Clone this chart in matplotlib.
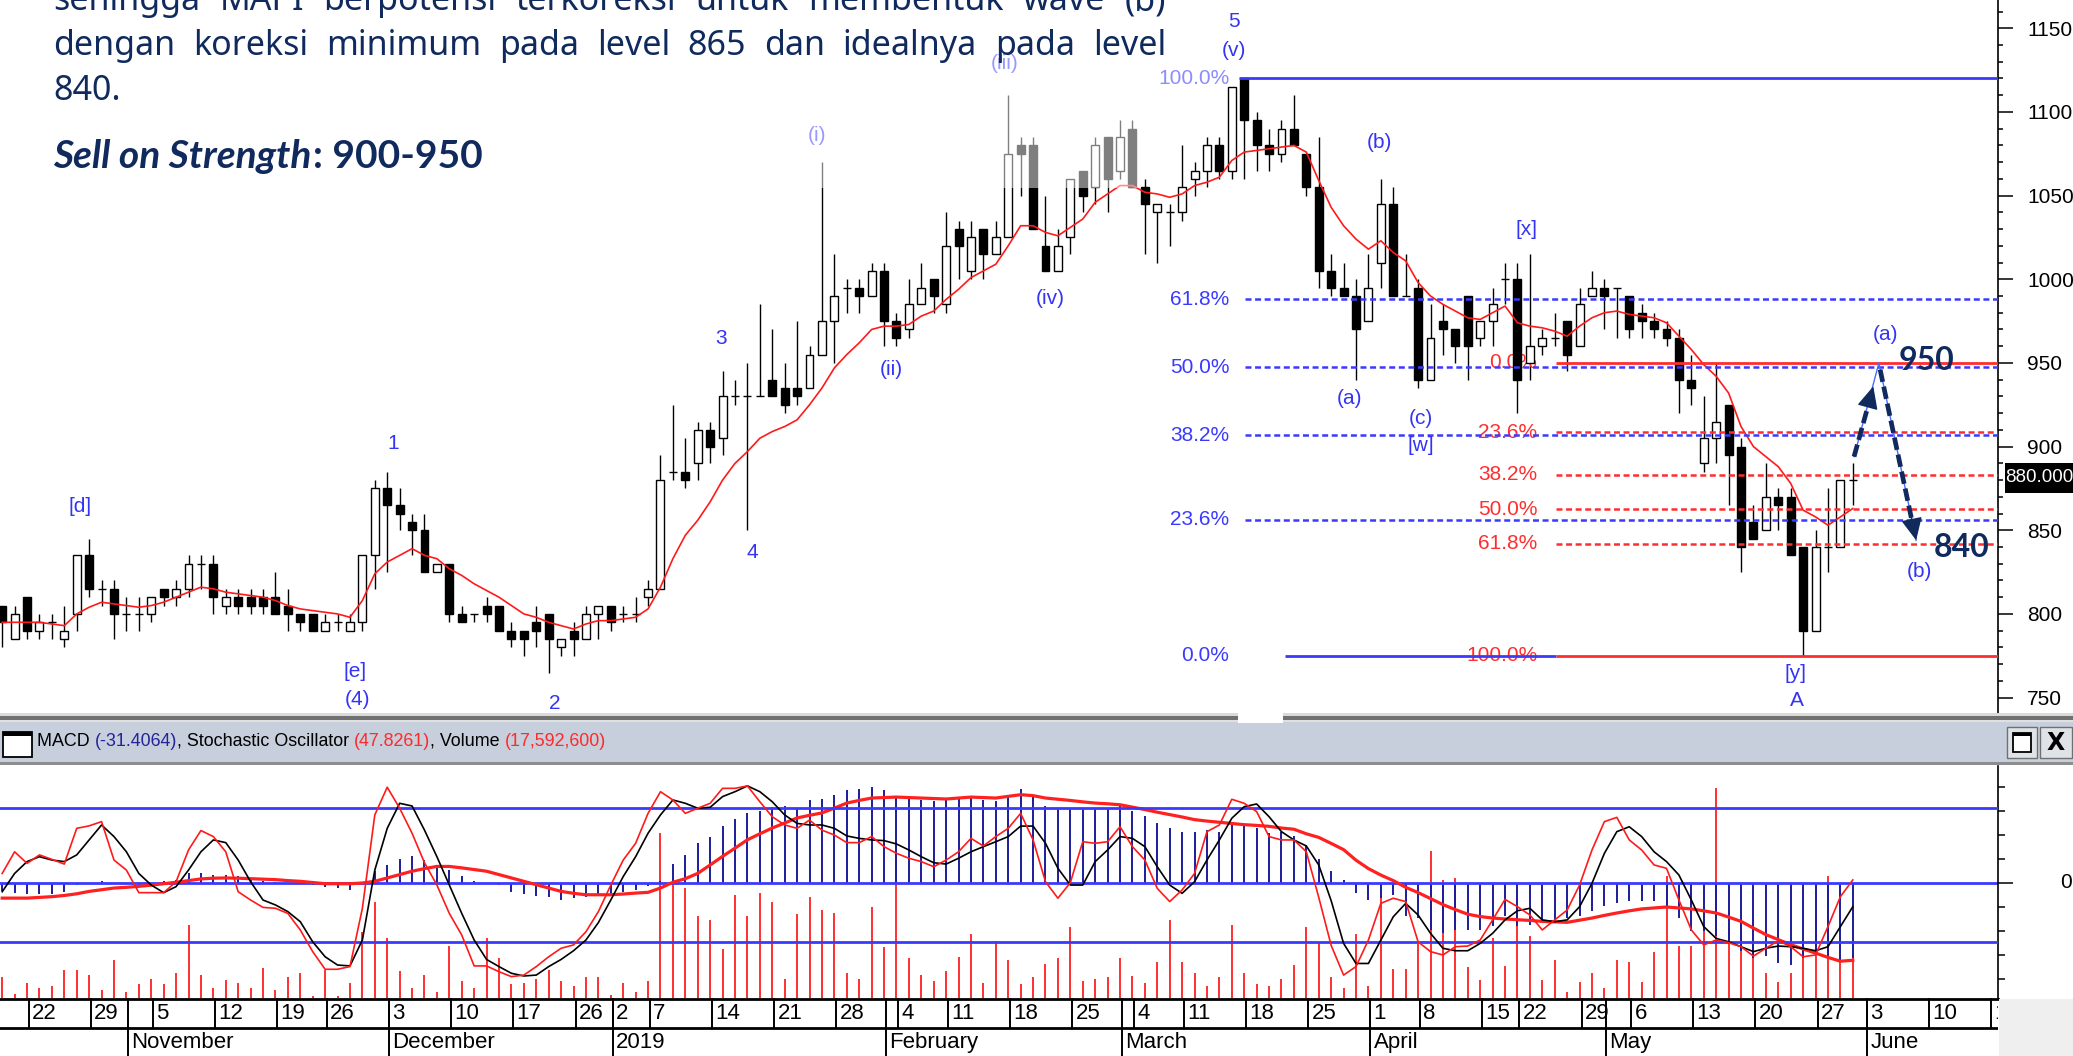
import matplotlib
matplotlib.use("Agg")
import matplotlib.pyplot as plt
from matplotlib.patches import Rectangle
import numpy as np

NARROW = ['Liberation Sans Narrow', 'Liberation Sans', 'DejaVu Sans']
BOLDFACE = ['Lato', 'Roboto', 'Liberation Sans']
plt.rcParams['font.family'] = NARROW
plt.rcParams['lines.scale_dashes'] = False

W, H = 2073, 1056

# ---- daily bars, index 0 = 18 Oct 2018 ----
opens = [805, 785, 810, 790, 795, 785, 800, 835, 815, 815,
         800, 800, 800, 815, 810, 815, 830, 830, 805, 810,
         810, 810, 810, 805, 800, 800, 790, 795, 790, 795,
         835, 875, 865, 855, 850, 825, 830, 800, 800, 805,
         805, 790, 790, 795, 800, 780, 790, 785, 800, 805,
         800, 800, 810, 815, 885, 885, 890, 910, 905, 930,
         930, 930, 940, 935, 935, 935, 955, 975, 995, 995,
         990, 1005, 975, 970, 985, 1000, 985, 1030, 1005, 1030,
         1015, 1025, 1080, 1080, 1020, 1005, 1025, 1065, 1055, 1085,
         1065, 1090, 1055, 1040, 1040, 1040, 1060, 1065, 1080, 1065,
         1120, 1095, 1080, 1075, 1090, 1075, 1055, 1005, 995, 990,
         975, 1010, 1045, 990, 995, 940, 975, 970, 990, 965,
         975, 1000, 1000, 950, 960, 965, 975, 960, 990, 995,
         995, 990, 980, 975, 970, 965, 940, 890, 905, 925,
         900, 855, 850, 870, 870, 840, 790, 840, 840, 880]
highs = [805, 805, 810, 800, 800, 805, 835, 845, 820, 820,
         810, 810, 810, 815, 820, 835, 835, 835, 815, 815,
         815, 815, 825, 815, 800, 800, 800, 800, 800, 835,
         880, 885, 875, 860, 860, 830, 830, 805, 800, 810,
         805, 795, 790, 805, 800, 785, 795, 805, 805, 805,
         805, 810, 820, 895, 925, 905, 915, 915, 945, 940,
         950, 985, 970, 950, 975, 960, 1070, 1015, 1000, 1000,
         1010, 1010, 980, 1000, 1010, 1000, 1040, 1035, 1035, 1030,
         1035, 1110, 1085, 1085, 1050, 1030, 1060, 1065, 1085, 1085,
         1095, 1095, 1060, 1045, 1045, 1080, 1070, 1085, 1085, 1115,
         1120, 1100, 1090, 1095, 1110, 1075, 1085, 1015, 1010, 1000,
         1015, 1060, 1055, 1015, 1000, 985, 985, 970, 990, 975,
         995, 1010, 1010, 1015, 970, 980, 975, 995, 1005, 1000,
         995, 990, 985, 980, 975, 970, 955, 930, 950, 925,
         905, 865, 890, 875, 875, 840, 850, 875, 880, 890]
lows = [780, 785, 785, 785, 785, 780, 790, 810, 805, 785,
        790, 790, 795, 805, 805, 810, 815, 800, 800, 800,
        800, 800, 800, 790, 790, 790, 790, 790, 790, 790,
        815, 825, 850, 835, 825, 825, 795, 795, 795, 795,
        790, 780, 775, 780, 765, 775, 775, 785, 785, 790,
        795, 795, 805, 815, 880, 875, 880, 890, 895, 925,
        850, 930, 930, 920, 925, 935, 955, 950, 980, 980,
        990, 960, 960, 965, 985, 980, 980, 1000, 1000, 1000,
        1015, 1025, 1050, 1030, 1005, 1005, 1015, 1040, 1045, 1040,
        1060, 1055, 1015, 1010, 1020, 1035, 1050, 1055, 1060, 1060,
        1060, 1065, 1065, 1070, 1080, 1050, 995, 990, 990, 940,
        975, 995, 990, 990, 935, 940, 955, 950, 940, 960,
        960, 985, 920, 940, 955, 960, 945, 960, 990, 970,
        965, 965, 965, 965, 960, 920, 925, 885, 890, 865,
        825, 845, 850, 850, 835, 775, 790, 825, 840, 865]
closes = [795, 800, 790, 795, 795, 790, 835, 815, 815, 800,
          800, 800, 810, 810, 815, 830, 830, 810, 810, 805,
          805, 805, 800, 800, 795, 790, 795, 795, 795, 835,
          875, 865, 860, 850, 825, 830, 800, 795, 800, 800,
          790, 785, 785, 790, 785, 785, 785, 800, 805, 795,
          800, 800, 815, 880, 885, 880, 910, 900, 930, 930,
          930, 930, 930, 925, 930, 955, 975, 990, 995, 990,
          1005, 975, 965, 985, 995, 990, 1020, 1020, 1025, 1015,
          1025, 1075, 1075, 1030, 1005, 1020, 1060, 1050, 1080, 1060,
          1085, 1055, 1045, 1045, 1040, 1055, 1065, 1080, 1065, 1115,
          1095, 1080, 1075, 1090, 1080, 1055, 1005, 995, 990, 970,
          995, 1045, 990, 990, 940, 965, 970, 960, 960, 975,
          985, 1000, 940, 960, 965, 965, 955, 985, 995, 990,
          995, 970, 975, 970, 965, 940, 935, 905, 915, 895,
          840, 845, 870, 865, 835, 790, 840, 840, 880, 880]
ma_line = [795, 795, 795, 795, 794, 793, 800, 804, 807, 806,
           805, 804, 805, 807, 810, 813, 816, 815, 813, 812,
           811, 810, 808, 805, 803, 802, 801, 800, 798, 808,
           824, 831, 835, 839, 835, 833, 827, 823, 818, 814,
           810, 805, 800, 798, 795, 793, 791, 794, 796, 796,
           797, 798, 803, 816, 833, 847, 856, 867, 880, 890,
           897, 905, 909, 912, 916, 925, 935, 947, 955, 962,
           970, 972, 972, 973, 978, 981, 988, 994, 1001, 1005,
           1009, 1020, 1032, 1032, 1028, 1026, 1031, 1036, 1046, 1051,
           1056, 1056, 1052, 1051, 1049, 1051, 1056, 1058, 1061, 1071,
           1076, 1077, 1078, 1079, 1080, 1076, 1059, 1043, 1032, 1024,
           1018, 1023, 1016, 1011, 998, 990, 985, 981, 977, 976,
           980, 984, 974, 972, 971, 969, 966, 972, 977, 980,
           981, 979, 978, 977, 974, 966, 958, 949, 942, 932,
           912, 900, 894, 888, 878, 862, 858, 853, 858, 863]
volume_m = [8.6, 1.8, 6.1, 4.2, 4.8, 11.6, 11.6, 9.3, 3.1, 15.7,
            2.5, 5.6, 7.9, 5.6, 10.2, 30.1, 9.3, 4.2, 7.2, 6.1,
            4.2, 12.4, 3.4, 8.6, 10.2, 1.0, 11.6, 1.0, 6.1, 27.0,
            39.3, 24.7, 11.0, 4.2, 9.3, 2.5, 21.5, 7.0, 4.2, 24.7,
            16.5, 5.6, 6.1, 7.9, 11.6, 7.0, 4.8, 8.6, 8.6, 1.1,
            6.1, 2.5, 7.0, 67.5, 48.0, 45.1, 33.8, 31.8, 20.2, 42.4,
            33.8, 42.9, 39.3, 7.9, 34.5, 41.6, 36.1, 34.8, 10.2, 7.9,
            37.5, 20.9, 64.5, 16.5, 9.3, 7.0, 11.0, 17.0, 26.3, 6.1,
            23.3, 15.7, 5.6, 8.6, 14.0, 16.5, 29.3, 7.0, 7.9, 8.6,
            16.5, 8.9, 6.1, 14.7, 31.8, 14.7, 10.2, 4.8, 8.6, 30.1,
            10.2, 5.6, 4.8, 7.9, 13.4, 29.3, 22.5, 8.6, 4.0, 26.3,
            5.0, 42.0, 12.0, 12.0, 22.0, 60.1, 48.3, 49.0, 12.7, 7.2,
            24.7, 13.0, 35.7, 25.6, 7.2, 15.7, 2.5, 6.5, 10.2, 4.2,
            15.7, 14.7, 6.5, 18.7, 50.2, 21.3, 21.5, 27.5, 86.0, 28.6,
            30.0, 22.0, 10.2, 6.5, 10.2, 23.5, 33.8, 50.2, 16.2, 17.6]
macd = [-3.5, -4.2, -4.4, -4.4, -4.4, -3.9, -1.0, 0.0, 0.7, 0.0,
        -0.5, -0.7, 0.0, 0.7, 1.4, 4.2, 4.2, 3.5, 3.5, 2.8,
        1.4, 0.7, 0.3, 0.0, -0.3, -0.7, -1.7, -2.1, -2.8, 0.3,
        4.9, 7.6, 10.0, 11.1, 9.4, 7.2, 5.6, 2.8, 0.7, 0.0,
        -0.7, -3.9, -4.4, -5.6, -5.8, -6.9, -6.3, -5.8, -5.6, -4.4,
        -3.9, -2.8, -1.4, 0.7, 8.1, 11.8, 16.5, 19.2, 23.6, 26.7,
        29.2, 29.9, 31.7, 32.2, 31.3, 34.7, 35.0, 36.8, 38.9, 39.2,
        40.0, 38.9, 36.1, 35.4, 34.7, 34.0, 34.7, 35.4, 36.1, 34.7,
        34.0, 36.8, 39.2, 36.1, 32.2, 31.3, 31.3, 31.3, 31.3, 31.3,
        32.2, 29.9, 27.8, 25.0, 22.9, 21.1, 21.1, 22.2, 21.1, 24.3,
        24.3, 22.9, 20.8, 21.1, 19.4, 16.0, 10.0, 5.0, 1.4, -4.2,
        -6.9, -6.3, -4.9, -13.9, -14.6, -19.4, -20.8, -19.4, -19.4, -19.4,
        -18.0, -13.9, -18.0, -17.4, -16.0, -16.0, -14.6, -13.9, -11.8, -9.7,
        -8.3, -7.6, -7.6, -7.6, -10.4, -14.6, -20.1, -20.1, -22.2, -24.3,
        -28.5, -31.3, -30.6, -33.3, -34.0, -31.3, -29.2, -31.0, -32.0, -31.4]
macd_signal = [-6.3, -6.3, -6.3, -6.0, -5.7, -5.2, -4.5, -3.5, -2.8, -2.1,
               -1.8, -1.4, -0.9, -0.3, 0.3, 1.0, 1.7, 2.0, 2.1, 2.0,
               1.8, 1.6, 1.4, 1.0, 0.7, 0.2, -0.3, -0.3, -0.3, 0.0,
               0.7, 2.1, 3.5, 4.9, 6.0, 6.9, 6.9, 6.3, 5.6, 4.9,
               3.5, 2.1, 0.7, -0.7, -2.1, -3.5, -4.3, -4.9, -4.9, -4.9,
               -4.6, -4.2, -3.9, -2.1, 0.3, 1.8, 4.0, 7.5, 11.1, 14.5,
               18.0, 20.5, 22.9, 25.0, 27.1, 28.2, 29.2, 31.2, 33.3, 34.4,
               35.4, 35.6, 35.8, 35.6, 35.4, 35.2, 35.0, 35.4, 35.8, 35.6,
               35.4, 36.1, 36.8, 36.4, 35.4, 34.9, 34.4, 33.8, 33.3, 33.0,
               32.6, 31.6, 30.6, 29.5, 28.5, 27.5, 26.4, 25.8, 25.3, 24.8,
               24.3, 24.0, 23.6, 22.9, 22.4, 20.5, 19.0, 16.5, 13.9, 9.5,
               6.0, 3.3, 1.0, -1.8, -4.0, -6.5, -9.0, -11.1, -13.0, -14.0,
               -14.6, -15.0, -15.3, -15.6, -16.0, -16.2, -16.4, -15.5, -14.6, -13.5,
               -12.5, -11.6, -10.8, -10.4, -10.0, -10.4, -10.8, -11.6, -12.5, -14.2,
               -16.0, -18.8, -21.5, -23.6, -25.7, -27.5, -29.2, -31.0, -32.6, -32.2]
stoch_k = [50.7, 60.4, 55.2, 59.0, 57.0, 54.9, 70.9, 72.0, 73.9, 56.7,
           52.2, 42.1, 42.1, 42.1, 47.0, 61.2, 69.9, 67.2, 60.4, 42.5,
           38.8, 35.5, 35.1, 32.8, 25.4, 15.7, 7.8, 7.8, 9.0, 35.1,
           76.9, 89.3, 79.9, 68.7, 55.5, 45.5, 32.8, 23.1, 9.3, 9.3,
           6.7, 4.5, 5.2, 9.0, 13.4, 17.2, 18.7, 24.6, 33.6, 45.5,
           56.7, 64.2, 77.6, 87.3, 83.6, 77.6, 79.9, 82.1, 88.8, 88.8,
           89.9, 82.8, 76.1, 72.4, 70.9, 74.6, 70.1, 67.9, 64.5, 64.5,
           67.2, 62.7, 59.7, 57.5, 56.0, 53.7, 56.7, 60.4, 66.4, 63.0,
           67.2, 70.9, 77.6, 65.7, 47.0, 39.6, 46.6, 64.9, 64.2, 64.9,
           71.6, 62.7, 56.7, 44.0, 38.1, 43.3, 50.7, 69.4, 72.4, 83.9,
           82.1, 78.4, 67.2, 65.7, 65.7, 60.4, 40.0, 18.5, 5.2, 9.0,
           20.9, 37.3, 39.6, 38.1, 20.1, 15.7, 14.2, 17.9, 18.2, 20.9,
           29.9, 39.1, 35.8, 32.1, 25.4, 29.9, 34.3, 45.5, 61.2, 73.9,
           75.8, 65.7, 61.2, 54.5, 53.0, 38.8, 25.4, 18.7, 20.9, 19.7,
           17.9, 13.7, 17.2, 20.6, 17.9, 13.4, 14.2, 26.9, 40.3, 47.8]
stoch_d = [42.5, 50.7, 56.0, 58.2, 56.7, 56.0, 59.0, 65.7, 72.4, 67.2,
           60.4, 50.7, 45.5, 42.1, 44.8, 52.2, 60.4, 65.7, 64.5, 56.7,
           47.0, 38.8, 36.6, 33.6, 29.1, 20.1, 13.4, 9.7, 9.3, 20.9,
           52.2, 70.9, 82.1, 80.9, 70.1, 58.2, 45.5, 32.8, 20.9, 12.2,
           9.0, 6.0, 4.8, 5.2, 9.0, 12.2, 16.1, 20.9, 28.7, 38.8,
           49.3, 58.2, 68.7, 76.9, 83.6, 82.1, 79.9, 80.3, 85.1, 87.3,
           89.9, 87.3, 82.8, 76.9, 73.1, 72.4, 72.4, 70.9, 67.5, 66.4,
           65.7, 65.4, 63.9, 61.2, 58.2, 55.5, 54.9, 57.5, 60.4, 62.7,
           64.9, 67.2, 71.9, 71.9, 64.2, 53.0, 45.5, 45.5, 56.0, 61.2,
           67.2, 66.4, 62.7, 53.7, 45.5, 41.8, 47.0, 56.7, 65.7, 75.4,
           80.6, 81.8, 76.1, 69.4, 65.7, 63.0, 54.5, 38.5, 19.4, 10.4,
           10.4, 20.9, 31.3, 37.3, 32.1, 23.9, 17.2, 16.1, 16.1, 19.4,
           23.9, 29.9, 34.0, 35.1, 29.9, 29.1, 29.9, 35.8, 46.3, 59.7,
           69.4, 71.6, 67.2, 60.4, 56.0, 50.0, 38.8, 26.9, 21.6, 20.1,
           17.9, 15.7, 17.2, 18.2, 17.9, 17.2, 16.1, 17.9, 26.9, 35.8]

# date axis (trading-day index of the first day of each week / month)
day_ticks = [2, 7, 12, 17, 22, 26, 31, 36, 41, 46, 49, 52, 57, 62, 67, 72, 76, 81,
             86, 91, 95, 100, 105, 110, 114, 119, 122, 127, 131, 136, 141, 146, 150, 155, 160]
day_labels = ['22', '29', '5', '12', '19', '26', '3', '10', '17', '26', '2', '7', '14', '21',
              '28', '4', '11', '18', '25', '4', '11', '18', '25', '1', '8', '15', '22', '29',
              '6', '13', '20', '27', '3', '10', '17']
month_ticks = [10, 31, 49, 71, 90, 110, 129, 150]
month_labels = ['November', 'December', '2019', 'February', 'March', 'April', 'May', 'June']

fib_high, fib_low = 1120, 775       # blue retracement
fib2_high, fib2_low = 950, 775      # red retracement
fib_ratios = [0.618, 0.5, 0.382, 0.236]

wave_labels = [(6.3, 864.5, '[d]'), (28.4, 765.5, '[e]'), (28.6, 748.6, '(4)'),
               (31.5, 902, '1'), (44.5, 746.6, '2'), (57.9, 964.7, '3'), (60.4, 836.6, '4'),
               (71.6, 946, '(ii)'), (84.4, 988.6, '(iv)'), (99.2, 1154, '5'),
               (99.2, 1137, '(v)'), (108.5, 929, '(a)'), (110.9, 1081.6, '(b)'),
               (114.2, 917, '(c)'), (114.2, 900.4, '[w]'), (122.7, 1030, '[x]'),
               (144.4, 764.5, '[y]'), (144.5, 748.2, 'A'), (151.6, 966.7, '(a)'),
               (154.4, 825.3, '(b)')]
faded_labels = [(65.6, 1086, '(i)'), (80.7, 1129, '(iii)')]

BLUE = '#3a3aff'
RED = '#ff2e2e'
NAVY = '#102a5e'
WAVE = '#3434f4'

X_LO, X_HI = -0.177, 160.69
AXIS_X = 1998

fig = plt.figure(figsize=(W / 100, H / 100), dpi=100)
fig.patch.set_facecolor('white')


def fig_rect(x0, y0, x1, y1, **kw):
    r = Rectangle((x0 / W, 1 - y1 / H), (x1 - x0) / W, (y1 - y0) / H,
                  transform=fig.transFigure, **kw)
    fig.add_artist(r)
    return r


# ---------------- price panel ----------------
ax = fig.add_axes([0, 1 - 714 / H, AXIS_X / W, 714 / H])
ax.set_xlim(X_LO, X_HI)
ax.set_ylim(740.2, 1166.9)
for s in ('left', 'top', 'bottom'):
    ax.spines[s].set_visible(False)
ax.spines['right'].set_linewidth(1.2)
ax.xaxis.set_visible(False)
ax.yaxis.tick_right()
ax.set_yticks(np.arange(750, 1151, 50))
ax.set_yticks(np.arange(750, 1161, 10), minor=True)
ax.tick_params(axis='y', which='major', length=10.8, width=1.1, pad=10, labelsize=15)
ax.tick_params(axis='y', which='minor', length=3.6, width=1.1)

x = np.arange(len(closes))
o, h, l, c = (np.array(a, dtype=float) for a in (opens, highs, lows, closes))
ax.vlines(x, l, h, color='black', lw=1.0, zorder=2)
up = c >= o
ax.bar(x[up], (c - o)[up], bottom=o[up], width=0.64, facecolor='white',
       edgecolor='black', lw=1.0, zorder=3)
ax.bar(x[~up], (o - c)[~up], bottom=c[~up], width=0.64, facecolor='black',
       edgecolor='black', lw=1.0, zorder=3)
ax.plot(x, ma_line, color='#ff1a1a', lw=1.2, zorder=4)

# blue fibonacci
dots = (0, (4.3, 2.6))
ax.hlines(fib_high, 99.6, X_HI, color=BLUE, lw=2, zorder=4)
ax.hlines(fib_low, 103.3, 125.1, color=BLUE, lw=2, zorder=4)
for f in fib_ratios:
    ax.hlines(fib_low + f * (fib_high - fib_low), 100.1, X_HI, color=BLUE, lw=1.8,
              linestyles=dots, zorder=4)
ax.text(98.8, fib_high, '100.0%', ha='right', va='center', color='#8c8cff', fontsize=15, zorder=2.5)
for f in fib_ratios + [0.0]:
    ax.text(98.8, fib_low + f * (fib_high - fib_low), '%.1f%%' % (f * 100), ha='right',
            va='center', color=BLUE, fontsize=15, zorder=2.5)

# red fibonacci
ax.hlines([fib2_high, fib2_low], 125.1, X_HI, color=RED, lw=2, zorder=4)
for f in fib_ratios:
    ax.hlines(fib2_high - f * (fib2_high - fib2_low), 125.1, X_HI, color=RED, lw=1.8,
              linestyles=dots, zorder=4)
for f in [0.0, 0.236, 0.382, 0.5, 0.618, 1.0]:
    ax.text(123.6, fib2_high - f * (fib2_high - fib2_low), '%.1f%%' % (f * 100), ha='right',
            va='center', color=RED, fontsize=15, zorder=2.5)

for xi, yi, s in wave_labels:
    ax.text(xi, yi, s, ha='center', va='center', color=WAVE, fontsize=15, zorder=7)
for xi, yi, s in faded_labels:
    ax.text(xi, yi, s, ha='center', va='center', color=WAVE, fontsize=15, zorder=4.5)

# washed-out patch near the top of the chart
ax.add_patch(Rectangle((64.2, 1054.6), 27.4, 120, facecolor='white', alpha=0.5, lw=0, zorder=5))

# projected path
ax.plot([149.1, 151.1, 154.1], [894, 950, 844], color='#4a6cff', lw=1, zorder=7)
ax.plot([149.1, 150.55], [894, 933], color=NAVY, lw=3.4, linestyle=(0, (9, 3.5)), zorder=8)
ax.plot([151.2, 153.95], [946, 849], color=NAVY, lw=3.4, linestyle=(0, (9, 3.5)), zorder=8)
for start, tip in [((149.1, 894), (150.65, 936)), ((151.2, 946), (154.1, 844))]:
    back = (tip[0] - 0.15 * (tip[0] - start[0]), tip[1] - 0.15 * (tip[1] - start[1]))
    ax.annotate('', xy=tip, xytext=back, zorder=8,
                arrowprops=dict(arrowstyle='-|>,head_length=0.7,head_width=0.33',
                                color=NAVY, lw=1, mutation_scale=20, shrinkA=0, shrinkB=0))
ax.text(154.9, 945.9, '950', ha='center', va='baseline', color=NAVY, fontsize=23,
        fontweight='bold', family=BOLDFACE, zorder=8)
ax.text(157.8, 834, '840', ha='center', va='baseline', color=NAVY, fontsize=23,
        fontweight='bold', family=BOLDFACE, zorder=8)

# ---------------- indicator panel ----------------
ind_rect = [0, 1 - 998 / H, AXIS_X / W, (998 - 766) / H]
axv = fig.add_axes(ind_rect)
axv.set_xlim(X_LO, X_HI)
axv.set_ylim(0, 95.1)
axv.axis('off')
axv.vlines(x, 0, volume_m, color='#ff1f1f', lw=1.3)

axm = axv.twinx()
axm.set_xlim(X_LO, X_HI)
axm.set_ylim(-47.92, 48.75)
axm.vlines(x, 0, macd, color='#1c1c9a', lw=1.4)
axm.axhline(0, color=BLUE, lw=2)
axm.plot(x, macd_signal, color='#ff2020', lw=2.3)
for s in ('left', 'top', 'bottom'):
    axm.spines[s].set_visible(False)
axm.spines['right'].set_linewidth(1.2)
axm.xaxis.set_visible(False)
axm.set_yticks([0])
axm.set_yticks([-40, -30, -20, -10, 10, 20, 30, 40], minor=True)
axm.tick_params(axis='y', which='major', length=10.8, width=1.1, labelright=False)
axm.tick_params(axis='y', which='minor', length=5, width=1.1)

axs = axv.twinx()
axs.set_xlim(X_LO, X_HI)
axs.set_ylim(-5.06, 98.8)
axs.axis('off')
axs.axhline(80, color=BLUE, lw=2)
axs.axhline(20, color=BLUE, lw=2)
axs.plot(x, stoch_d, color='black', lw=1.2)
axs.plot(x, stoch_k, color='#ff1a1a', lw=1.2)

fig.text(2060 / W, 1 - 883 / H, '0', ha='left', va='center', fontsize=15)

# ---------------- date axis ----------------
axd = fig.add_axes([0, 0, AXIS_X / W, 58 / H])
axd.set_xlim(X_LO, X_HI)
axd.set_ylim(0, 58)
axd.axis('off')
axd.axhline(57.3, color='black', lw=2, clip_on=False)
axd.axhline(28, color='black', lw=2)
for i, lab in zip(day_ticks, day_labels):
    axd.vlines(i + 0.16, 28, 58, color='black', lw=1.4)
    axd.text(i + 0.42, 42.5, lab, ha='left', va='center', fontsize=16, clip_on=True)
for i, lab in zip(month_ticks, month_labels):
    axd.vlines(i + 0.16, 0, 58, color='black', lw=1.4)
    axd.text(i + 0.42, 13.5, lab, ha='left', va='center', fontsize=16, clip_on=True)
fig_rect(AXIS_X + 1, 999, W, H, facecolor='#efefef', lw=0)

# ---------------- header bar between panels ----------------
fig_rect(0, 713, W, 716, facecolor='#dadada', lw=0)
fig_rect(0, 716, W, 720, facecolor='#707070', lw=0)
fig_rect(0, 720, W, 722, facecolor='#e0e0e0', lw=0)
fig_rect(0, 722, W, 762, facecolor='#c6cfdb', lw=0)
fig_rect(0, 762, W, 765, facecolor='#8d8d8d', lw=0)
fig_rect(1238, 709, 1283, 723, facecolor='white', lw=0)

fig_rect(3, 732, 32, 757, facecolor='white', edgecolor='black', lw=1.3)
fig_rect(3, 732, 32, 736, facecolor='black', lw=0)
fig_rect(2007, 727, 2037, 758, facecolor='#dfe3e8', edgecolor='#707070', lw=1)
fig_rect(2013, 733, 2031, 752, facecolor='white', edgecolor='black', lw=1.3)
fig_rect(2013, 733, 2031, 736, facecolor='black', lw=0)
fig_rect(2040, 727, 2072, 758, facecolor='#dfe3e8', edgecolor='#707070', lw=1)
fig.text(2056 / W, 1 - 742.5 / H, 'X', ha='center', va='center', fontsize=17,
         fontweight='bold', family='DejaVu Sans')

renderer = fig.canvas.get_renderer()


def text_width(s, **kw):
    t = fig.text(0, 0, s, **kw)
    w = t.get_window_extent(renderer).width
    t.remove()
    return w


header = [('MACD ', 'black'), ('(-31.4064)', '#24249c'), (', Stochastic Oscillator ', 'black'),
          ('(47.8261)', '#ff2a2a'), (', Volume ', 'black'), ('(17,592,600)', '#ff2a2a')]
hkw = dict(fontsize=12.9)
done = ''
for s, col in header:
    xpos = 37 + (text_width(done + '|', **hkw) - text_width('|', **hkw) if done else 0)
    fig.text(xpos / W, 1 - 746 / H, s, color=col, ha='left', va='baseline', **hkw)
    done += s

# last price tag
fig_rect(2005, 463, W, 493, facecolor='black', lw=0)
fig.text(2039 / W, 1 - 478 / H, '880.000', color='white', ha='center', va='center', fontsize=13.5)

# ---------------- commentary text ----------------
body = dict(fontsize=24.5, color=NAVY, family='Noto Sans')
lines = [('sehingga MAPI berpotensi terkoreksi untuk membentuk wave (b)', 10.5, True),
         ('dengan koreksi minimum pada level 865 dan idealnya pada level', 55, True),
         ('840.', 100, False)]
for txt, base, justify in lines:
    words = txt.split()
    if not justify:
        fig.text(53 / W, 1 - base / H, txt, va='baseline', ha='left', **body)
        continue
    widths = [text_width(w_, **body) for w_ in words]
    gap = (1166 - 53 - sum(widths)) / (len(words) - 1)
    xp = 53
    for w_, wd in zip(words, widths):
        fig.text(xp / W, 1 - base / H, w_, va='baseline', ha='left', **body)
        xp += wd + gap

bold = dict(fontsize=28, color=NAVY, family=BOLDFACE, fontweight='bold')
fig.text(53 / W, 1 - 168 / H, 'Sell on Strength', va='baseline', ha='left', style='italic', **bold)
sw = text_width('Sell on Strength', style='italic', **bold)
fig.text((53 + sw + 2) / W, 1 - 168 / H, ': 900-950', va='baseline', ha='left', **bold)

fig.savefig('out.png', dpi=100, facecolor='white')
